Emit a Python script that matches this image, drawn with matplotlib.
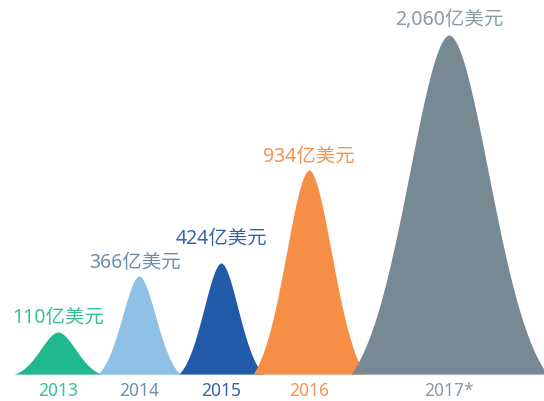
import numpy as np
import matplotlib.pyplot as plt

plt.rcParams['font.family'] = ['Noto Sans', 'Noto Sans CJK SC', 'DejaVu Sans']

years = ['2013', '2014', '2015', '2016', '2017*']
values = [110, 366, 424, 934, 2060]
value_labels = ['110亿美元', '366亿美元', '424亿美元', '934亿美元', '2,060亿美元']
# peak heights as drawn in the original (not proportional to values)
peaks = [42, 98, 111, 204, 339]

centers = [58, 139, 221, 309, 449]
half_widths = [43, 41, 42, 56, 98]
colors = ['#1fb88f', '#8fc0e6', '#205aa9', '#f68e45', '#778a94']
text_colors = ['#35c09a', '#6e8fac', '#3463aa', '#f5924f', '#8a9ba4']
label_dx = [0, -4, 0, 0, 0]
label_gap = [15, 14, 25, 14, 16]

fig = plt.figure(figsize=(5.44, 4.02), dpi=100)
ax = fig.add_axes([0, 0, 1, 1])
ax.set_xlim(0, 544)
ax.set_ylim(-27, 375)
ax.axis('off')

ax.plot([15, 544], [0, 0], color='#d8dde0', lw=1, zorder=0)

for i in range(len(years)):
    c, w, h = centers[i], half_widths[i], peaks[i]
    s = w / 2.4
    x = np.linspace(-w, w, 400)
    g = np.exp(-0.5 * np.abs(x / s) ** 1.85)
    g0 = np.exp(-0.5 * (w / s) ** 1.85)
    y = h * (g - g0) / (1 - g0)
    ax.fill_between(x + c, 0, y, color=colors[i], lw=0, zorder=i + 1)
    ax.text(c + label_dx[i], h + label_gap[i], value_labels[i], color=text_colors[i],
            fontsize=14, ha='center', va='center', zorder=10)
    ax.text(c, -16, years[i], color=text_colors[i], fontsize=12.5,
            ha='center', va='center', zorder=10)

fig.savefig('out.png', dpi=100)
